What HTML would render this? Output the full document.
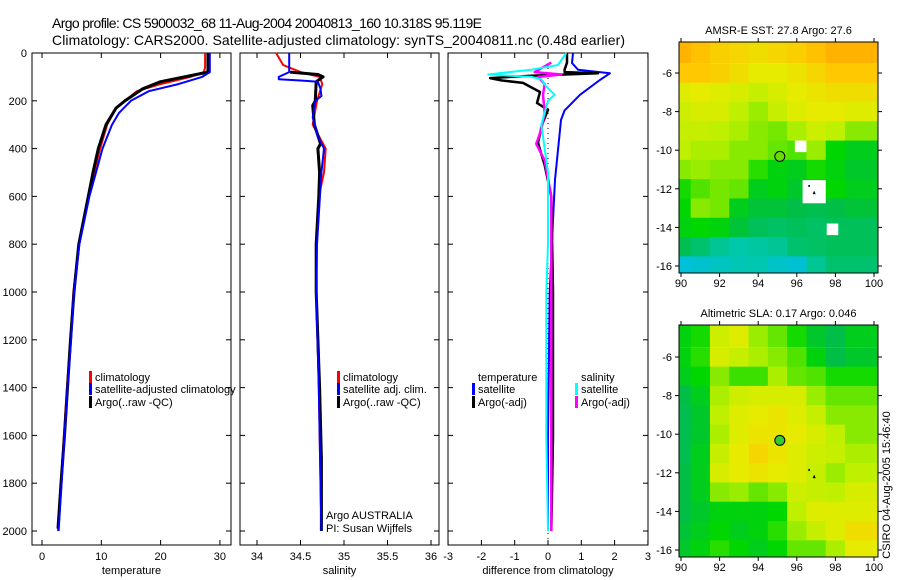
<!DOCTYPE html>
<html><head><meta charset="utf-8"><style>
html,body{margin:0;padding:0;background:#fff}
svg{display:block;font-family:"Liberation Sans",sans-serif}
</style></head><body>
<svg id="c" width="900" height="580" viewBox="0 0 900 580">
<text x="52" y="28" font-size="14" textLength="430">Argo profile: CS 5900032_68 11-Aug-2004 20040813_160 10.318S 95.119E</text>
<text x="52" y="45" font-size="14" textLength="573">Climatology: CARS2000. Satellite-adjusted climatology: synTS_20040811.nc (0.48d earlier)</text>
<text x="890" y="485" font-size="11" text-anchor="middle" transform="rotate(-90 890 485)">CSIRO 04-Aug-2005 15:46:40</text>
</svg>
<script>
// ---- profile data ----
const tClimD=[0,60,80,100,130,160,200,230,300,400,500,600,700,800,1000,1200,1400,1600,1800,2000];
const tClimV=[27.5,27.5,27.3,25,20,16,14,12.5,11,9.8,8.8,7.8,7,6.2,5.3,4.8,4.2,3.7,3.2,2.7];
const tSatD=[0,80,100,130,160,200,250,300,400,500,600,800,1000,1200,1400,1600,1800,2000];
const tSatV=[28.3,28.3,27,23,18,15,13,11.8,10.2,9.1,8,6.3,5.4,4.9,4.3,3.8,3.3,2.8];
const tArgD=[0,80,90,120,150,200,230,300,400,500,600,800,1000,1200,1400,1600,1800,1990];
const tArgV=[28.0,28.0,26,20,17,14,12.5,10.8,9.5,8.6,7.8,6.2,5.4,4.8,4.3,3.8,3.2,2.7];
const sClimD=[0,50,80,100,130,200,300,400,500,600,800,1000,1400,2000];
const sClimV=[34.22,34.3,34.5,34.72,34.75,34.69,34.64,34.79,34.77,34.71,34.68,34.68,34.71,34.74];
const sSatD=[0,80,100,110,115,120,150,180,200,270,350,400,500,800,1000,1400,2000];
const sSatV=[34.37,34.37,34.25,34.25,34.5,34.70,34.73,34.74,34.67,34.64,34.7,34.77,34.74,34.69,34.68,34.71,34.74];
const sArgD=[80,90,100,120,200,220,300,380,400,500,600,800,1000,1400,1700,2000];
const sArgV=[34.38,34.70,34.76,34.68,34.67,34.64,34.66,34.73,34.70,34.72,34.71,34.68,34.68,34.72,34.74,34.74];
const dTSatD=[0,42,70,85,113,175,240,280,364,530,700,1000,1600,2000];
const dTSatV=[0.75,0.72,0.9,1.86,1.56,0.96,0.5,0.39,0.33,0.21,0.15,0.05,0,0];
const dTArgD=[0,40,70,80,85,95,105,115,125,163,209,238,300,376,470,600,1000,1600,2000];
const dTArgV=[0.57,0.57,0.5,0.5,1.5,-0.5,-1.74,-1.38,-0.75,-0.24,-0.33,0,-0.18,-0.3,-0.1,0.1,0.15,0.15,0.1];
const dSSatD=[0,50,70,90,100,110,140,175,200,250,300,400,500,800,1000,1600,2000];
const dSSatV=[0.55,0.3,-0.5,-1.8,-0.5,-0.2,-0.05,0.2,0.0,-0.1,-0.2,-0.1,0,0,-0.05,-0.05,0];
const dSArgD=[40,80,90,100,130,175,250,320,380,450,600,1000,2000];
const dSArgV=[0.1,-0.4,0.4,-0.3,-0.1,-0.15,-0.1,-0.2,-0.35,-0.1,0.1,0.1,0.1];
const depthTicks=[0,200,400,600,800,1000,1200,1400,1600,1800,2000];
const tTicks=[0,10,20,30];
const sTicks=[34,34.5,35,35.5,36];
const dTicks=[-3,-2,-1,0,1,2,3];
// ---- map data (colour index 0..6) ----
const mapLons=[90,91,92,93,94,95,96,97,98,99];
const mapLats=[-5,-6,-7,-8,-9,-10,-11,-12,-13,-14,-15,-16];
const sstGrid=[
[5.8,5.6,5.4,5.3,5.2,5.3,5.4,5.6,5.8,5.8],
[5.5,5.5,5.4,5.2,5.0,5.0,5.1,5.3,5.5,5.5],
[4.9,5.0,4.9,4.8,4.6,4.8,5.0,5.1,5.2,5.2],
[4.7,4.8,4.8,4.5,4.3,4.6,4.9,5.0,5.0,4.9],
[4.6,4.6,4.5,4.4,4.2,4.1,4.4,4.7,4.5,4.2],
[4.5,4.4,4.4,4.2,4.2,4.0,3.9,4.3,3.5,3.3],
[4.2,4.3,4.2,4.2,3.7,3.4,3.3,3.6,3.4,3.2],
[3.6,3.9,4.1,4.0,3.3,3.4,3.2,3.3,3.5,3.3],
[3.5,4.2,4.1,3.3,3.1,3.1,3.0,2.9,3.0,3.1],
[3.4,3.5,3.4,3.1,2.8,2.7,2.8,2.7,2.8,2.8],
[2.9,2.6,2.2,2.0,2.1,2.2,2.6,2.7,2.8,2.8],
[1.2,1.4,1.6,1.8,1.9,1.5,1.3,2.2,2.6,2.6]];
const slaGrid=[
[3.4,3.6,4.7,4.9,4.3,4.0,3.6,3.2,3.0,3.3],
[3.4,3.7,4.8,4.6,4.4,4.2,3.9,3.4,3.0,3.2],
[3.3,3.5,4.2,3.8,3.8,4.4,4.0,3.9,3.6,3.6],
[3.0,3.3,4.4,4.7,4.8,4.8,4.8,4.3,4.0,4.0],
[2.9,3.2,4.5,4.9,5.0,5.1,4.9,4.6,4.2,4.2],
[2.9,3.2,4.4,4.9,5.1,5.1,5.0,4.8,4.5,4.2],
[2.9,3.3,4.6,5.0,5.3,5.1,4.9,4.7,4.6,4.4],
[3.0,3.3,4.8,5.0,5.1,5.0,4.9,4.6,4.3,4.5],
[3.0,3.3,4.2,4.3,4.0,4.2,4.7,4.6,4.5,4.8],
[3.0,3.2,3.4,3.4,3.4,3.5,4.5,4.9,4.9,4.9],
[3.1,3.3,3.5,3.3,3.4,3.7,4.3,4.6,4.9,5.2],
[3.2,3.4,3.7,3.5,3.3,3.5,4.0,4.0,4.4,5.0]];
const argoLon=95.12, argoLat=-10.32;
const lonTicks=[90,92,94,96,98,100];
const latTicks=[-6,-8,-10,-12,-14,-16];

const NS='http://www.w3.org/2000/svg';
const svg=document.getElementById('c');
function mk(tag,attrs,parent){const e=document.createElementNS(NS,tag);for(const k in attrs)e.setAttribute(k,attrs[k]);(parent||svg).appendChild(e);return e;}
const Y0=53, YS=0.239;
const yD=d=>Y0+d*YS;
const panels=[
 {x0:32,x1:231,fx:v=>42+v*5.93,ticks:tTicks,label:'temperature',name:'temperature-panel'},
 {x0:240,x1:439,fx:v=>257+(v-34)*87,ticks:sTicks,label:'salinity',name:'salinity-panel'},
 {x0:448,x1:648,fx:v=>548+v*33.3,ticks:dTicks,label:'difference from climatology',name:'difference-panel'}];
const TOP=53, BOT=545;
panels.forEach((p,i)=>{
 const g=mk('g',{});
 
 
 const r=mk('rect',{x:p.x0,y:TOP,width:p.x1-p.x0,height:BOT-TOP,fill:'none',stroke:'#000','stroke-width':1},g);
 
 
 depthTicks.forEach(d=>{const y=yD(d);
  mk('line',{x1:p.x0,x2:p.x0+5,y1:y,y2:y,stroke:'#000'},g);
  mk('line',{x1:p.x1-5,x2:p.x1,y1:y,y2:y,stroke:'#000'},g);
  if(i===0){const t=mk('text',{x:27,y:y+4,'font-size':11,'text-anchor':'end'},g);t.textContent=d;
   
   }
 });
 p.ticks.forEach(v=>{const x=p.fx(v);
  mk('line',{x1:x,x2:x,y1:BOT,y2:BOT-5,stroke:'#000'},g);
  mk('line',{x1:x,x2:x,y1:TOP,y2:TOP+5,stroke:'#000'},g);
  const t=mk('text',{x:x,y:BOT+15,'font-size':11,'text-anchor':'middle'},g);t.textContent=v;
  
  
 });
 const t=mk('text',{x:(p.x0+p.x1)/2,y:BOT+29,'font-size':11,'text-anchor':'middle'},g);t.textContent=p.label;
 
 
});
const zl=mk('line',{x1:panels[2].fx(0),x2:panels[2].fx(0),y1:TOP,y2:BOT,stroke:'#000','stroke-dasharray':'1,4'});


function line(p,D,V,col,w,name){
 const pts=D.map((d,k)=>p.fx(V[k]).toFixed(1)+','+yD(d).toFixed(1)).join(' ');
 const e=mk('polyline',{points:pts,fill:'none',stroke:col,'stroke-width':w,'stroke-linejoin':'round'});
 
 
}
line(panels[0],tClimD,tClimV,'#f00',2,'temp-climatology-line');
line(panels[0],tArgD,tArgV,'#000',3,'temp-argo-line');
line(panels[0],tSatD,tSatV,'#00f',2,'temp-satellite-line');
line(panels[1],sClimD,sClimV,'#f00',2,'sal-climatology-line');
line(panels[1],sArgD,sArgV,'#000',3,'sal-argo-line');
line(panels[1],sSatD,sSatV,'#00f',2,'sal-satellite-line');
line(panels[2],dTSatD,dTSatV,'#00f',2,'diff-temp-satellite-line');
line(panels[2],dTArgD,dTArgV,'#000',2.5,'diff-temp-argo-line');
line(panels[2],dSArgD,dSArgV,'#f0f',2.5,'diff-sal-argo-line');
line(panels[2],dSSatD,dSSatV,'#0ff',2,'diff-sal-satellite-line');
function legend(x,y,col,txt){
 if(col){const b=mk('rect',{x:x,y:y-10,width:3,height:12,fill:col});
  
  }
 const t=mk('text',{x:x+6,y:y,'font-size':11});t.textContent=txt;
 
 
}
legend(89,381,'#f00','climatology');legend(89,393,'#00f','satellite-adjusted climatology');legend(89,406,'#000','Argo(..raw -QC)');
legend(337,381,'#f00','climatology');legend(337,393,'#00f','satellite adj. clim.');legend(337,406,'#000','Argo(..raw -QC)');
legend(472,381,null,'temperature');legend(472,393,'#00f','satellite');legend(472,406,'#000','Argo(-adj)');
legend(575,381,null,'salinity');legend(575,393,'#0ff','satellite');legend(575,406,'#f0f','Argo(-adj)');
[['Argo AUSTRALIA',519],['PI: Susan Wijffels',532]].forEach(a=>{const t=mk('text',{x:326,y:a[1],'font-size':11});t.textContent=a[0];
 
 });
// ---- maps ----
const stops=[[0,[0,150,255]],[1,[0,190,230]],[2,[0,200,170]],[3,[0,190,70]],[3.5,[0,215,0]],[4,[100,230,0]],[4.5,[190,240,0]],[5,[230,235,0]],[5.5,[255,200,0]],[6,[255,165,0]]];
function cmap(v){for(let i=1;i<stops.length;i++){if(v<=stops[i][0]){const a=stops[i-1],b=stops[i],f=(v-a[0])/(b[0]-a[0]);return 'rgb('+a[1].map((c,k)=>Math.round(c+(b[1][k]-c)*f)).join(',')+')';}}return 'rgb(255,165,0)';}
function drawMap(top,bottom,grid,title,name,sst){
 const L=679,R=878;
 const lx=lon=>681+(lon-90)*19.3;
 const lat6=top===42?73:357;
 const ly=lat=>lat6+(-6-lat)*19.3;
 const g=mk('g',{});
 
 
 const cp=mk('clipPath',{id:name+'-clip'},g);mk('rect',{x:L,y:top,width:R-L,height:bottom-top},cp);
 const cg=mk('g',{'clip-path':'url(#'+name+'-clip)'},g);
 grid.forEach((row,r)=>row.forEach((v,c)=>{
  const x=lx(mapLons[c]-0.5), y=ly(mapLats[r]+0.5);
  const cell=mk('rect',{x:x,y:y,width:19.3+(c===9?30:0.5),height:19.3+(r===0||r===11?30:0.5),fill:cmap(v)},cg);
  if(r===0)cell.setAttribute('y',y-30);
  if(c===0)cell.setAttribute('x',x-30),cell.setAttribute('width',49.8);
  
  
 }));
 if(sst){
  [[96.2,-9.8,0.6,0.6],[97.85,-14.1,0.6,0.6],[96.9,-12.15,1.2,1.2]].forEach(s=>{
   const w=mk('rect',{x:lx(s[0]-s[2]/2),y:ly(s[1]+s[3]/2),width:s[2]*19.3,height:s[3]*19.3,fill:'#fff'},cg);
   
   });
 }
 const fr=mk('rect',{x:L,y:top,width:R-L,height:bottom-top,fill:'none',stroke:'#000'},g);
 
 
 const c=mk('circle',{cx:lx(argoLon),cy:ly(argoLat),r:5,fill:sst?'#66dd00':'#33cc33',stroke:'#000','stroke-width':1},g);
 
 
 mk('rect',{x:lx(96.6),y:ly(-11.8),width:1.5,height:2,fill:'#000'},g);
 mk('polygon',{points:[lx(96.9)-1.5,ly(-12.2)+1.5,lx(96.9)+1.5,ly(-12.2)+1.5,lx(96.9),ly(-12.2)-2].join(' '),fill:'#000'},g);
 lonTicks.forEach(v=>{const x=lx(v);
  mk('line',{x1:x,x2:x,y1:bottom,y2:bottom+4,stroke:'#000'},g);
  mk('line',{x1:x,x2:x,y1:top,y2:top-4,stroke:'#000'},g);
  const t=mk('text',{x:x,y:bottom+14,'font-size':11,'text-anchor':'middle'},g);t.textContent=v;
  
  });
 latTicks.forEach(v=>{const y=ly(v);
  mk('line',{x1:L,x2:L-4,y1:y,y2:y,stroke:'#000'},g);
  mk('line',{x1:R,x2:R+4,y1:y,y2:y,stroke:'#000'},g);
  const t=mk('text',{x:L-7,y:y+4,'font-size':11,'text-anchor':'end'},g);t.textContent=v;
  
  });
 const t=mk('text',{x:(L+R)/2,y:top-8,'font-size':11,'text-anchor':'middle'},g);t.textContent=title;
 
 
}
drawMap(42,273,sstGrid,'AMSR-E SST: 27.8 Argo: 27.6','sst-map',true);
drawMap(325,557,slaGrid,'Altimetric SLA: 0.17 Argo: 0.046','sla-map',false);
</script>
</body></html>
